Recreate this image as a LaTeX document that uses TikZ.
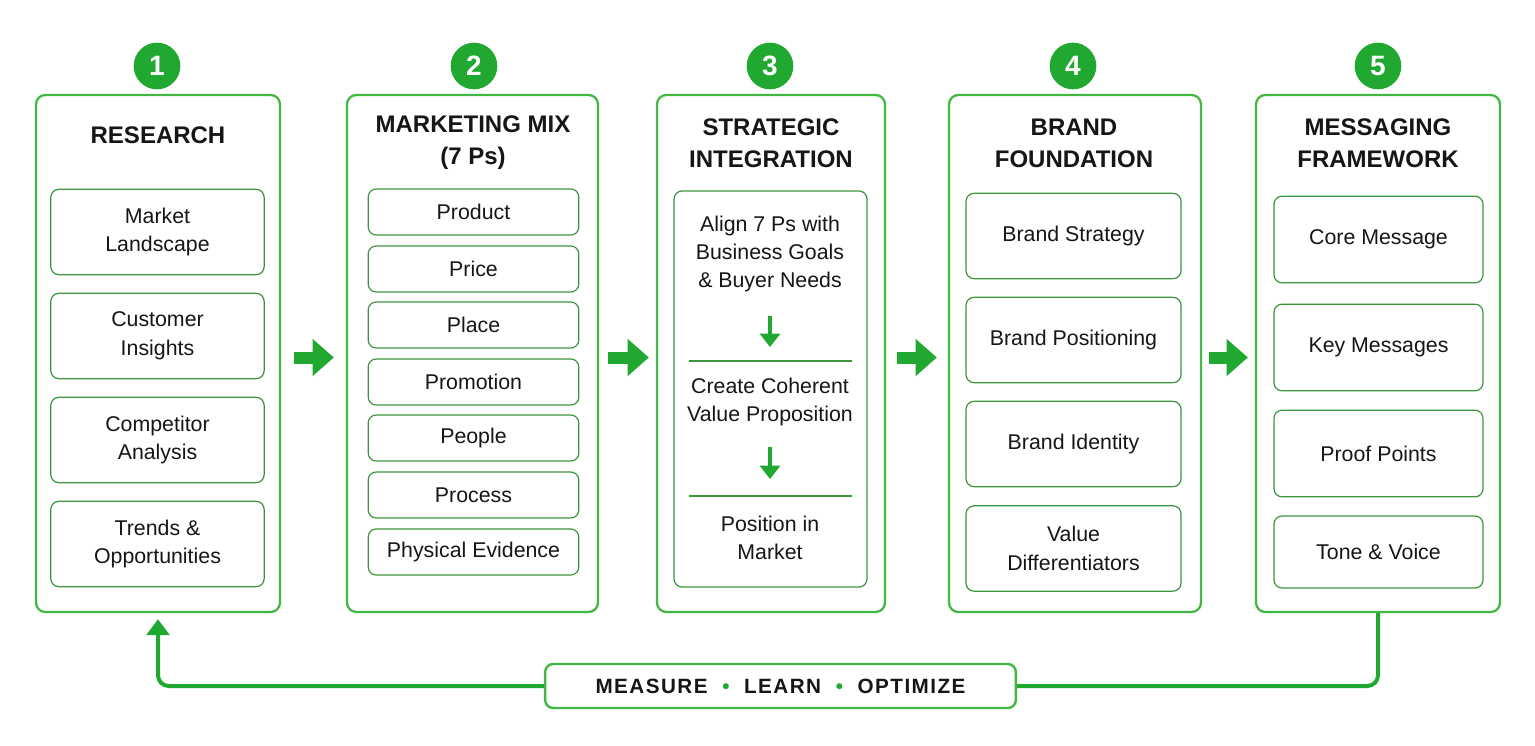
\documentclass[tikz,border=0pt]{standalone}
\usepackage{fontspec}
\setmainfont{Liberation Sans}
\usetikzlibrary{arrows.meta}

\definecolor{stepgreen}{RGB}{32,168,48}
\definecolor{framegreen}{RGB}{66,184,66}
\definecolor{itemgreen}{RGB}{60,150,60}
\definecolor{inkblack}{RGB}{22,22,22}

\tikzset{
  panel/.style={draw=framegreen, line width=1.7pt, rounded corners=7pt, fill=white, inner sep=0pt},
  numdot/.style={circle, fill=stepgreen, text=white, minimum size=35pt, inner sep=0pt,
    font=\fontsize{21}{21}\selectfont\bfseries},
  heading/.style={align=center, text=inkblack, font=\fontsize{18}{24}\selectfont\bfseries},
  item/.style={draw=itemgreen, line width=0.9pt, rounded corners=6pt, align=center, inner sep=0pt,
    text=inkblack, font=\fontsize{16}{21.5}\selectfont},
  tallitem/.style={item, minimum width=160pt, minimum height=64pt},
  mixitem/.style={item, minimum width=158pt, minimum height=34.5pt},
  flowtext/.style={align=center, text=inkblack, font=\fontsize{16}{21}\selectfont},
  flowarrow/.style={draw=stepgreen, line width=9pt, -{Triangle[length=16pt,width=27pt]}},
  downarrow/.style={draw=stepgreen, line width=2.3pt, -{Triangle[length=10pt,width=15pt]}},
  loopline/.style={draw=stepgreen, line width=3pt, rounded corners=8pt},
  loopbox/.style={draw=framegreen, line width=1.8pt, rounded corners=6pt, fill=white,
    minimum width=353pt, minimum height=33pt, inner sep=0pt, text=inkblack,
    font=\fontsize{15.5}{18}\selectfont\bfseries\addfontfeature{LetterSpace=7}}
}

\begin{document}
\begin{tikzpicture}[x=0.75pt, y=-0.75pt]
\useasboundingbox (0,0) rectangle (1535,746);
\fill[white] (0,0) rectangle (1535,746);

% step panels
\node[panel, minimum width=183pt, minimum height=387.75pt] (p1) at (158,353.5) {};
\node[panel, minimum width=188.25pt, minimum height=387.75pt] (p2) at (472.5,353.5) {};
\node[panel, minimum width=171pt, minimum height=387.75pt] (p3) at (771,353.5) {};
\node[panel, minimum width=189pt, minimum height=387.75pt] (p4) at (1075,353.5) {};
\node[panel, minimum width=183pt, minimum height=387.75pt] (p5) at (1378,353.5) {};

\node[numdot] (n1) at (157,66) {1};
\node[numdot] (n2) at (474,66) {2};
\node[numdot] (n3) at (770,66) {3};
\node[numdot] (n4) at (1073,66) {4};
\node[numdot] (n5) at (1378,66) {5};

\node[heading] (h1) at (158,135) {RESEARCH};
\node[heading] (h2) at (473,143) {MARKETING MIX\\(7 Ps)};
\node[heading] (h3) at (771,143) {STRATEGIC\\INTEGRATION};
\node[heading] (h4) at (1074,143) {BRAND\\FOUNDATION};
\node[heading] (h5) at (1378,143) {MESSAGING\\FRAMEWORK};

% 1 research
\node[tallitem] (market) at (157.5,232) {Market\\Landscape};
\node[tallitem] (customer) at (157.5,336) {Customer\\Insights};
\node[tallitem] (rivals) at (157.5,440) {Competitor\\Analysis};
\node[tallitem] (trends) at (157.5,544) {Trends \&\\Opportunities};

% 2 marketing mix
\node[mixitem] (product) at (473.5,212) {Product};
\node[mixitem] (price) at (473.5,269) {Price};
\node[mixitem] (place) at (473.5,325) {Place};
\node[mixitem] (promo) at (473.5,382) {Promotion};
\node[mixitem] (people) at (473.5,438) {People};
\node[mixitem] (process) at (473.5,495) {Process};
\node[mixitem] (evidence) at (473.5,552) {Physical Evidence};

% 3 strategic integration
\node[item, minimum width=144.75pt, minimum height=297pt] (flow) at (770.5,389) {};
\node[flowtext] (align) at (770,254) {Align 7 Ps with\\Business Goals\\\& Buyer Needs};
\node[flowtext] (cohere) at (770,402) {Create Coherent\\Value Proposition};
\node[flowtext] (position) at (770,537.5) {Position in\\Market};
\coordinate (d1) at (770,316);
\coordinate (d1e) at (770,347);
\coordinate (d2) at (770,447);
\coordinate (d2e) at (770,479);
\draw[downarrow] (d1) -- (d1e);
\draw[downarrow] (d2) -- (d2e);
\draw[itemgreen, line width=0.9pt] (689,361) -- (852,361);
\draw[itemgreen, line width=0.9pt] (689,496) -- (852,496);

% 4 brand foundation
\node[tallitem, minimum width=161.25pt] (strategy) at (1073.5,236) {Brand Strategy};
\node[tallitem, minimum width=161.25pt] (positioning) at (1073.5,340) {Brand Positioning};
\node[tallitem, minimum width=161.25pt] (identity) at (1073.5,444) {Brand Identity};
\node[tallitem, minimum width=161.25pt] (values) at (1073.5,548.5) {Value\\Differentiators};

% 5 messaging framework
\node[tallitem, minimum width=156.75pt, minimum height=65pt] (core) at (1378.5,239.5) {Core Message};
\node[tallitem, minimum width=156.75pt, minimum height=65pt] (keys) at (1378.5,347.5) {Key Messages};
\node[tallitem, minimum width=156.75pt, minimum height=65pt] (proof) at (1378.5,453.5) {Proof Points};
\node[tallitem, minimum width=156.75pt, minimum height=54pt] (tone) at (1378.5,552) {Tone \& Voice};

% steps
\draw[flowarrow, shorten <=9.75pt, shorten >=9pt] ([yshift=-3pt]p1.east) -- ([yshift=-3pt]p2.west);
\draw[flowarrow, shorten <=6.75pt, shorten >=5.25pt] ([yshift=-3pt]p2.east) -- ([yshift=-3pt]p3.west);
\draw[flowarrow, shorten <=8.25pt, shorten >=8.25pt] ([yshift=-3pt]p3.east) -- ([yshift=-3pt]p4.west);
\draw[flowarrow, shorten <=5.25pt, shorten >=5.25pt] ([yshift=-3pt]p4.east) -- ([yshift=-3pt]p5.west);

% feedback loop
\node[loopbox] (loop) at (780.5,686) {MEASURE\hspace{11pt}\textcolor{stepgreen}{\textbullet}\hspace{11pt}LEARN\hspace{11pt}\textcolor{stepgreen}{\textbullet}\hspace{11pt}OPTIMIZE};
\draw[loopline] (p5.south) |- (loop.east);
\draw[loopline, -{Triangle[length=12pt,width=17pt]}, shorten >=4.5pt] (loop.west) -| (p1.south);
\end{tikzpicture}
\end{document}
